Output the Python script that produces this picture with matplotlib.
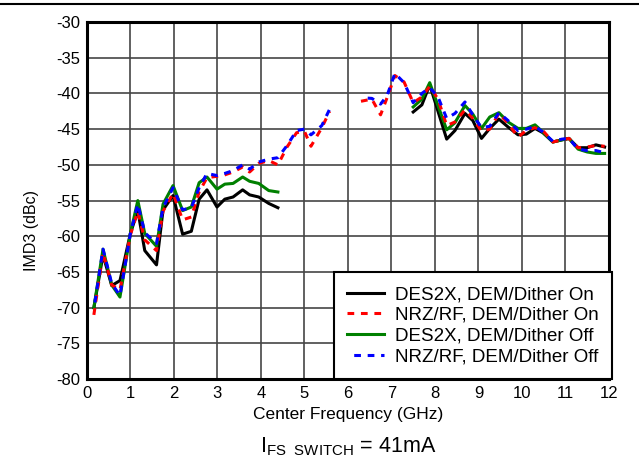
import numpy as np
import matplotlib
matplotlib.use("Agg")
import matplotlib.pyplot as plt
from matplotlib.lines import Line2D

plt.rcParams['font.family'] = ['Liberation Sans', 'DejaVu Sans']
plt.rcParams['mathtext.fontset'] = 'custom'
plt.rcParams['mathtext.rm'] = 'Liberation Sans'
plt.rcParams['mathtext.it'] = 'Liberation Sans'
plt.rcParams['axes.unicode_minus'] = False

nan = np.nan

# DES2X series sampling (gap between low and high bands)
freq_des = [0.16, 0.37, 0.57, 0.76, 1.0, 1.17, 1.33, 1.6, 1.75, 1.98, 2.2, 2.4, 2.58, 2.76,
            2.99, 3.17, 3.36, 3.58, 3.74, 3.95, 4.18, 4.39, 6.0,
            7.5, 7.7, 7.88, 8.27, 8.46, 8.69, 8.87, 9.07, 9.26, 9.47, 9.68, 9.91, 10.1,
            10.3, 10.48, 10.71, 10.92, 11.08, 11.29, 11.5, 11.7, 11.9]
des2x_on = [-70, -62.6, -66.9, -66.2, -59.6, -56.4, -62, -64, -56.3, -54.3, -59.7, -59.3, -54.8, -53.5,
            -55.9, -54.8, -54.5, -53.5, -54.2, -54.5, -55.4, -56.0, nan,
            -42.6, -41.6, -38.8, -46.4, -45.2, -42.8, -43.8, -46.3, -44.9, -43.6, -44.7, -45.8, -45.7,
            -44.9, -45.5, -46.8, -46.5, -46.3, -47.6, -47.6, -47.2, -47.5]
des2x_off = [-70, -61.8, -66.8, -68.5, -59.6, -55.0, -59.6, -61.4, -55.5, -52.9, -56.4, -55.9, -52.5, -51.7,
             -53.4, -52.7, -52.6, -51.7, -52.3, -52.6, -53.6, -53.8, nan,
             -41.9, -40.8, -38.5, -45.1, -44.1, -41.7, -42.9, -44.9, -43.3, -42.7, -44.0, -44.9, -44.9,
             -44.4, -45.4, -46.8, -46.5, -46.3, -47.8, -48.2, -48.4, -48.4]

# NRZ/RF series sampling
freq_nrz = [0.16, 0.37, 0.57, 0.76, 1.0, 1.17, 1.33, 1.6, 1.75, 1.98, 2.2, 2.4, 2.58, 2.76,
            2.99, 3.17, 3.36, 3.58, 3.74, 3.95, 4.18, 4.39, 4.6, 4.82, 5.0, 5.15, 5.4, 5.58, 6.0,
            6.3, 6.55, 6.75, 6.9, 7.08, 7.29, 7.5, 7.7, 7.88, 8.07, 8.27, 8.46, 8.69, 8.87,
            9.07, 9.26, 9.47, 9.68, 9.91, 10.1, 10.3, 10.48, 10.71, 10.92, 11.08, 11.29, 11.5, 11.7, 11.9]
nrz_on = [-71, -62.3, -66.8, -67.5, -59.8, -56.5, -60.5, -62.0, -56.5, -54.0, -57.7, -57.3, -53.8, -51.8,
          -51.6, -51.4, -51.0, -50.3, -51.0, -49.8, -49.4, -50.0, -47.5, -45.5, -45.3, -47.4, -44.8, -42.5, nan,
          -41.1, -40.8, -43.0, -40.6, -37.5, -38.4, -41.3, -40.5, -39.0, -40.8, -44.5, -44.0, -42.3, -43.5,
          -45.3, -45.0, -42.8, -44.2, -46.1, -45.2, -44.8, -45.2, -46.8, -46.5, -46.3, -47.6, -47.5, -47.3, -47.4]
nrz_off = [-70.2, -61.8, -66.6, -68.3, -59.6, -55.5, -59.5, -61.0, -56.0, -53.2, -56.3, -56.0, -53.2, -51.2,
           -51.5, -51.2, -50.8, -50.0, -50.6, -49.6, -49.2, -49.0, -47.3, -45.2, -45.0, -45.8, -44.5, -42.2, nan,
           -40.6, -40.7, -41.5, -40.3, -37.2, -38.5, -41.3, -40.0, -39.2, -40.5, -43.5, -42.8, -41.2, -43.0,
           -44.8, -44.6, -42.7, -43.8, -45.2, -45.0, -44.6, -45.4, -46.7, -46.4, -46.3, -47.8, -48.0, -48.0, -48.3]

labels = ["DES2X, DEM/Dither On", "NRZ/RF, DEM/Dither On",
          "DES2X, DEM/Dither Off", "NRZ/RF, DEM/Dither Off"]
x_ticks = list(range(0, 13))
y_ticks = list(range(-80, -29, 5))

fig = plt.figure(figsize=(6.39, 4.67), dpi=100)
ax = fig.add_axes([0.136, 0.188, 0.817, 0.765])

ax.plot(freq_des, des2x_on, color='black', lw=2.2, label=labels[0], zorder=3)
ax.plot(freq_nrz, nrz_on, color='#ff0000', lw=2.2, linestyle=(0, (2.2, 2.2)), label=labels[1], zorder=4)
ax.plot(freq_des, des2x_off, color='#008000', lw=2.2, label=labels[2], zorder=3)
ax.plot(freq_nrz, nrz_off, color='#0000ff', lw=2.2, linestyle=(2.2, (2.2, 2.2)), label=labels[3], zorder=5)

ax.set_xlim(0, 12)
ax.set_ylim(-80, -30)
ax.set_xticks(x_ticks)
ax.set_yticks(y_ticks)
ax.grid(True, color='#454545', lw=1.2)
ax.set_axisbelow(True)
ax.tick_params(length=0, labelsize=12, pad=5)
for s in ax.spines.values():
    s.set_linewidth(2.2)

ax.set_xlabel("Center Frequency (GHz)", fontsize=12.5, labelpad=4)
ax.set_ylabel("IMD3 (dBc)", fontsize=11.5)
ax.yaxis.set_label_coords(-0.092, 0.415)

leg = ax.legend(loc='lower right', bbox_to_anchor=(1.006, 0), fontsize=13.5, frameon=True,
                fancybox=False, borderaxespad=0, handlelength=1.95, handletextpad=0.6,
                labelspacing=0.2, borderpad=0.72)
leg.get_frame().set_edgecolor('black')
leg.get_frame().set_linewidth(1.5)
leg.get_frame().set_alpha(1)

fig.text(0.545, 0.043, r"I$_{\mathregular{FS\ \ SWITCH}}$ = 41mA", ha='center', va='center', fontsize=15.5)
fig.add_artist(Line2D([0, 1], [1 - 4 / 467, 1 - 4 / 467], transform=fig.transFigure,
                      color='black', lw=1.5))

fig.savefig("out.png", dpi=100)
